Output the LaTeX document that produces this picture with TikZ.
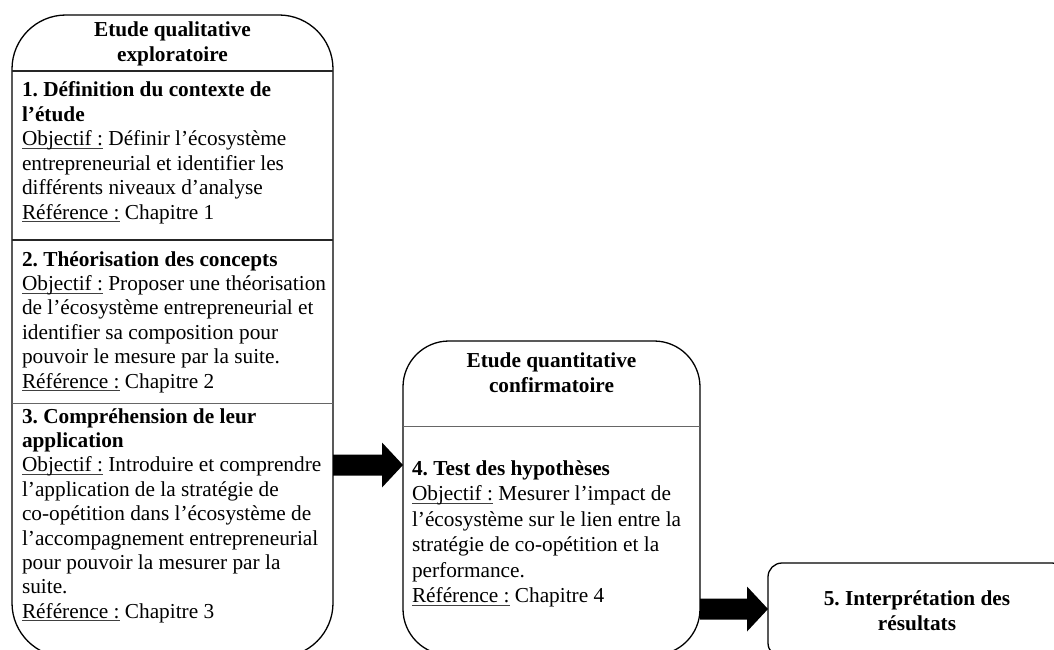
\documentclass[tikz,border=0pt]{standalone}
\usepackage{fontspec}
\setmainfont{Liberation Serif}
\usetikzlibrary{calc}
\frenchspacing
\newcommand\myul[1]{\setbox0\hbox{#1}\rlap{\color{black!75}\rule[-3pt]{\wd0}{0.9pt}}\box0\relax}
\newcommand\blockarrow[2]{\fill ($(#1)+(0,-10.5)$) -- ($(#2)+(-21,-10.5)$) -- ($(#2)+(-21,-22.5)$) -- (#2) -- ($(#2)+(-21,22.5)$) -- ($(#2)+(-21,10.5)$) -- ($(#1)+(0,10.5)$) -- cycle;}
\begin{document}
\begin{tikzpicture}[x=1pt,y=-1pt,
  every node/.style={inner sep=0pt,outer sep=0pt},
  txt/.style={font=\fontsize{21.3}{24.4}\selectfont, anchor=base west},
  hdr/.style={font=\fontsize{21.3}{24.4}\selectfont\bfseries, anchor=base},
  box/.style={draw=black, line width=1.3pt, anchor=north west},
  thick divider/.style={draw=black!85, line width=1.6pt},
  thin divider/.style={draw=black!60, line width=0.8pt}]
\useasboundingbox (0,0) rectangle (1054,650);
\clip (0,0) rectangle (1054,650);

% boxes
\node[box, rounded corners=54pt, minimum width=321pt, minimum height=642pt] (qual) at (12,15) {};
\node[box, rounded corners=46pt, minimum width=297pt, minimum height=314pt] (quant) at (403,341) {};
\node[box, rounded corners=14pt, minimum width=298pt, minimum height=94pt] (interp) at (768,563) {};

% dividers
\draw[thick divider] (12,71) -- (333,71);
\draw[thick divider] (12,240) -- (333,240);
\draw[thin divider] (12,403) -- (333,403);
\draw[thin divider] (403,426) -- (700,426);

% headers
\node[hdr] (h1a) at (172.5,37) {Etude qualitative};
\node[hdr] (h1b) at (172.5,62) {exploratoire};
\node[hdr] (h2a) at (551.5,367) {Etude quantitative};
\node[hdr] (h2b) at (551.5,392) {confirmatoire};
\node[hdr] (h3a) at (917,605) {5. Interprétation des};
\node[hdr] (h3b) at (917,630) {résultats};

% section 1
\foreach \t [count=\i from 0] in {
  {\bfseries 1. Définition du contexte de},
  {\bfseries l’étude},
  {\myul{Objectif :} Définir l’écosystème},
  {entrepreneurial et identifier les},
  {différents niveaux d’analyse},
  {\myul{Référence :} Chapitre 1}}
  \node[txt] (sa\i) at (22,{97+24.4*\i}) {\t};

% section 2
\foreach \t [count=\i from 0] in {
  {\bfseries 2. Théorisation des concepts},
  {\myul{Objectif :} Proposer une théorisation},
  {de l’écosystème entrepreneurial et},
  {identifier sa composition pour},
  {pouvoir le mesure par la suite.},
  {\myul{Référence :} Chapitre 2}}
  \node[txt] (sb\i) at (22,{266+24.4*\i}) {\t};

% section 3
\foreach \t [count=\i from 0] in {
  {\bfseries 3. Compréhension de leur},
  {\bfseries application},
  {\myul{Objectif :} Introduire et comprendre},
  {l’application de la stratégie de},
  {co-opétition dans l’écosystème de},
  {l’accompagnement entrepreneurial},
  {pour pouvoir la mesurer par la},
  {suite.},
  {\myul{Référence :} Chapitre 3}}
  \node[txt] (sc\i) at (22,{423+24.4*\i}) {\t};

% section 4
\foreach \t [count=\i from 0] in {
  {\bfseries 4. Test des hypothèses},
  {\myul{Objectif :} Mesurer l’impact de},
  {l’écosystème sur le lien entre la},
  {stratégie de co-opétition et la},
  {performance.},
  {\myul{Référence :} Chapitre 4}}
  \node[txt] (sd\i) at (412,{475+25.5*\i}) {\t};

% arrows
\coordinate (a1s) at (qual.east |- 0,465);
\coordinate (a1e) at (quant.west |- 0,465);
\coordinate (a2s) at (quant.east |- 0,609);
\coordinate (a2e) at (interp.west |- 0,609);
\blockarrow{a1s}{a1e}
\blockarrow{a2s}{a2e}
\end{tikzpicture}
\end{document}
